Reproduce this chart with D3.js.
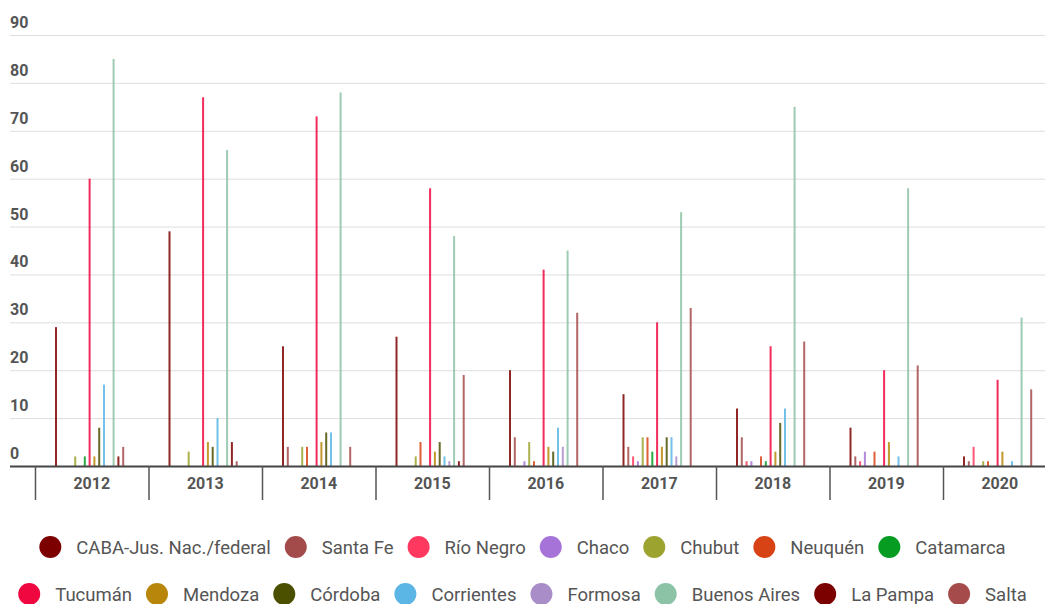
<!DOCTYPE html>
<html>
<head>
<meta charset="utf-8">
<script src="https://cdn.jsdelivr.net/npm/d3@7"></script>
<style>
  body { margin: 0; background: #fff; }
  svg { display: block; font-family: Roboto, sans-serif; }
</style>
</head>
<body>
<svg id="chart" width="1045" height="604"></svg>
<script>
const years = ['2012', '2013', '2014', '2015', '2016', '2017', '2018', '2019', '2020'];

const provinces = [
  'CABA-Jus. Nac./federal', 'Santa Fe', 'Río Negro', 'Chaco', 'Chubut', 'Neuquén', 'Catamarca',
  'Tucumán', 'Mendoza', 'Córdoba', 'Corrientes', 'Formosa', 'Buenos Aires', 'La Pampa', 'Salta'];

const colors = [
  '#7d0000', '#a34a4a', '#ff3860', '#a674d8', '#9ca32e', '#d84315', '#069c22',
  '#f0073f', '#b8860b', '#4b5000', '#5bb5e5', '#a98dc9', '#8cc3a6', '#7b0000', '#a64b4b'];

// one row per province, one value per year
const values = [
  [29, 49, 25, 27, 20, 15, 12, 8, 2],   // CABA
  [0, 0, 4, 0, 6, 4, 6, 2, 1],          // Santa Fe
  [0, 0, 0, 0, 0, 2, 1, 1, 4],          // Río Negro
  [0, 0, 0, 0, 1, 1, 1, 3, 0],          // Chaco
  [2, 3, 4, 2, 5, 6, 0, 0, 1],          // Chubut
  [0, 0, 4, 5, 1, 6, 2, 3, 1],          // Neuquén
  [2, 0, 0, 0, 0, 3, 1, 0, 0],          // Catamarca
  [60, 77, 73, 58, 41, 30, 25, 20, 18], // Tucumán
  [2, 5, 5, 3, 4, 4, 3, 5, 3],          // Mendoza
  [8, 4, 7, 5, 3, 6, 9, 0, 0],          // Córdoba
  [17, 10, 7, 2, 8, 6, 12, 2, 1],       // Corrientes
  [0, 0, 0, 1, 4, 2, 0, 0, 0],          // Formosa
  [85, 66, 78, 48, 45, 53, 75, 58, 31], // Buenos Aires
  [2, 5, 0, 1, 0, 0, 0, 0, 0],          // La Pampa
  [4, 1, 4, 19, 32, 33, 26, 21, 16]];   // Salta

const yTicks = [0, 10, 20, 30, 40, 50, 60, 70, 80, 90];

const svg = d3.select('#chart');
const m = { top: 35, left: 35, bottom: 466 };
const gridLeft = 10;
const W = 1045;

const y = d3.scaleLinear().domain([0, 90]).range([m.bottom, m.top]);
const x0 = d3.scaleBand().domain(years).range([m.left, m.left + 113.5 * years.length]);
const x1 = d3.scaleBand().domain(provinces).range([18.6, 90.6]);

// gridlines + y labels
svg.append('g').selectAll('line')
  .data(yTicks.filter(t => t > 0))
  .enter()
  .append('line')
  .attr('x1', gridLeft)
  .attr('x2', W)
  .attr('y1', d => y(d) + 0.5)
  .attr('y2', d => y(d) + 0.5)
  .attr('stroke', '#dedede');

svg.append('g').selectAll('text')
  .data(yTicks)
  .enter()
  .append('text')
  .attr('x', gridLeft)
  .attr('y', d => y(d) - 7)
  .attr('fill', '#555')
  .attr('font-size', 16)
  .attr('font-weight', 'bold')
  .text(d => d);

// bars
const groups = svg.append('g').selectAll('g')
  .data(years)
  .enter()
  .append('g')
  .attr('transform', d => `translate(${x0(d)},0)`);

groups.selectAll('rect')
  .data((yr, yi) => provinces.map((p, pi) => ({ p, pi, v: values[pi][yi] })))
  .enter()
  .filter(d => d.v > 0)
  .append('rect')
  .attr('x', d => x1(d.p) + x1.bandwidth() / 2 - 1)
  .attr('width', 2)
  .attr('y', d => y(d.v))
  .attr('height', d => y(0) - y(d.v))
  .attr('fill', d => colors[d.pi])
  .attr('fill-opacity', 0.85);

// x axis
svg.append('line')
  .attr('x1', gridLeft)
  .attr('x2', W)
  .attr('y1', m.bottom + 0.5)
  .attr('y2', m.bottom + 0.5)
  .attr('stroke', '#444')
  .attr('stroke-width', 2);

svg.append('g').selectAll('line')
  .data(years)
  .enter()
  .append('line')
  .attr('x1', d => x0(d) + 0.5)
  .attr('x2', d => x0(d) + 0.5)
  .attr('y1', m.bottom)
  .attr('y2', m.bottom + 34)
  .attr('stroke', '#555')
  .attr('stroke-width', 1.5);

svg.append('g').selectAll('text')
  .data(years)
  .enter()
  .append('text')
  .attr('x', d => x0(d) + x0.bandwidth() / 2)
  .attr('y', m.bottom + 23)
  .attr('text-anchor', 'middle')
  .attr('fill', '#555')
  .attr('font-size', 16)
  .attr('font-weight', 'bold')
  .text(d => d);

// legend, two centred rows
const rows = [provinces.slice(0, 7), provinces.slice(7)];
const rowY = [547, 594];
const legend = svg.append('g');
rows.forEach((row, ri) => {
  const g = legend.append('g');
  let cx = 0;
  row.forEach((p) => {
    const pi = provinces.indexOf(p);
    g.append('circle')
      .attr('cx', cx + 11)
      .attr('cy', rowY[ri])
      .attr('r', 11)
      .attr('fill', colors[pi]);
    const t = g.append('text')
      .attr('x', cx + 37)
      .attr('y', rowY[ri] + 6.5)
      .attr('fill', '#555')
      .attr('font-size', 18.5)
      .text(p);
    cx += 37 + t.node().getComputedTextLength() + 14;
  });
  const total = cx - 14;
  g.attr('transform', `translate(${(W - total) / 2},0)`);
});
</script>
</body>
</html>
